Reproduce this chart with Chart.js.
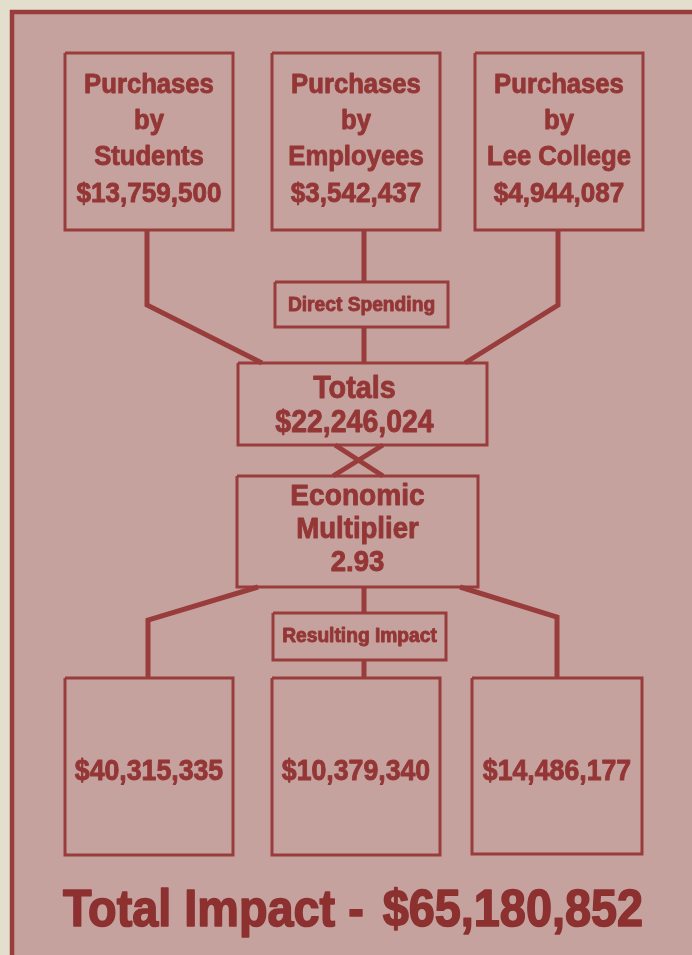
<!DOCTYPE html>
<html>
<head>
<meta charset="utf-8">
<title>Lee College economic impact</title>
<script src="https://cdn.jsdelivr.net/npm/chart.js@4.4.1/dist/chart.umd.min.js"></script>
<style>
  html, body { margin: 0; padding: 0; background: #e4dfcd; }
  #wrap { width: 692px; height: 955px; position: relative; }
</style>
</head>
<body>
<div id="wrap"><canvas id="chart"></canvas></div>
<script>
// values
const sourceLabels = [["Purchases", "by", "Students"], ["Purchases", "by", "Employees"], ["Purchases", "by", "Lee College"]];
const directSpending = [13759500, 3542437, 4944087];
const totalDirect = 22246024;
const multiplier = 2.93;
const resultingImpact = [40315335, 10379340, 14486177];
const totalImpact = 65180852;
const stageLabels = ["Direct Spending", "Totals", "Economic", "Multiplier", "Resulting Impact", "Total Impact"];

// layout, in page pixels (x right, y down)
const W = 692, H = 955;
const ink = "rgb(152, 60, 60)";
const textInk = "rgb(148, 54, 54)";
const topBoxes = [[65, 53, 233, 230], [272, 53, 440, 230], [475, 53, 643, 230]];
const bottomBoxes = [[65, 678, 233, 855], [272, 678, 440, 855], [472, 678, 642, 854]];
const directBox = [275, 282, 448, 327];
const totalsBox = [238, 363, 487, 445];
const multBox = [237, 476, 478, 587];
const resultBox = [273, 613, 446, 660];
const stemX = 364;

const money = (v) => "$" + v.toLocaleString("en-US");

const boxPath = (b) => [
  { x: b[0], y: b[1] }, { x: b[2], y: b[1] }, { x: b[2], y: b[3] }, { x: b[0], y: b[3] }, { x: b[0], y: b[1] }
];
const seg = (pts) => pts.map((p) => ({ x: p[0], y: p[1] }));

const boxes = [...topBoxes, ...bottomBoxes, directBox, totalsBox, multBox, resultBox];
const connectors = [
  seg([[147, topBoxes[0][3]], [147, 305], [262, totalsBox[1]]]),
  seg([[558, topBoxes[2][3]], [558, 305], [465, totalsBox[1]]]),
  seg([[stemX, topBoxes[1][3]], [stemX, directBox[1]]]),
  seg([[stemX, directBox[3]], [stemX, totalsBox[1]]]),
  seg([[335, totalsBox[3]], [383, multBox[1]]]),
  seg([[383, totalsBox[3]], [333, multBox[1]]]),
  seg([[stemX, multBox[3]], [stemX, resultBox[1]]]),
  seg([[stemX, resultBox[3]], [stemX, bottomBoxes[1][1]]]),
  seg([[258, multBox[3]], [148, 620], [148, bottomBoxes[0][1]]]),
  seg([[460, multBox[3]], [557, 617], [557, bottomBoxes[2][1]]])
];

const datasets = [
  ...connectors.map((d) => ({ data: d, borderWidth: 5 })),
  ...boxes.map((b) => ({ data: boxPath(b), borderWidth: 3 }))
].map((d) => ({
  ...d,
  showLine: true,
  borderColor: ink,
  pointRadius: 0,
  borderJoinStyle: "miter",
  borderCapStyle: "butt",
  tension: 0
}));

// text items: [text, x, y, font size, horizontal squeeze]
const cx = (b) => (b[0] + b[2]) / 2;
const texts = [];
topBoxes.forEach((b, i) => {
  sourceLabels[i].forEach((t, j) => texts.push([t, cx(b), 86 + j * 36, 27, 0.95]));
  texts.push([money(directSpending[i]), cx(b), 194, 28, 0.93]);
});
texts.push([stageLabels[0], cx(directBox), 305, 20, 0.96]);
texts.push([stageLabels[1], cx(totalsBox) - 8, 389, 32, 0.9]);
texts.push([money(totalDirect), cx(totalsBox) - 8, 423, 32, 0.89]);
texts.push([stageLabels[2], cx(multBox), 497, 29, 0.97]);
texts.push([stageLabels[3], cx(multBox), 530, 29, 0.95]);
texts.push([multiplier.toFixed(2), cx(multBox), 563, 29, 0.95]);
texts.push([stageLabels[4], cx(resultBox), 636, 20, 0.96]);
bottomBoxes.forEach((b, i) => texts.push([money(resultingImpact[i]), cx(b), 772, 29, 0.92]));

const diagram = {
  id: "diagram",
  beforeDraw(chart) {
    const ctx = chart.ctx;
    const xs = chart.scales.x, ys = chart.scales.y;
    ctx.save();
    ctx.fillStyle = "#e4dfcd";
    ctx.fillRect(0, 0, chart.width, chart.height);
    const fx = xs.getPixelForValue(12), fy = ys.getPixelForValue(12);
    ctx.fillStyle = "rgb(197, 162, 158)";
    ctx.fillRect(fx, fy, chart.width + 10, chart.height + 10);
    ctx.strokeStyle = ink;
    ctx.lineWidth = 4.5;
    ctx.strokeRect(fx, fy, chart.width + 10, chart.height + 10);
    ctx.restore();
  },
  afterDatasetsDraw(chart) {
    const ctx = chart.ctx;
    const xs = chart.scales.x, ys = chart.scales.y;
    const draw = (t, x, y, size, squeeze, align) => {
      ctx.save();
      ctx.font = "bold " + size + "px 'Liberation Sans', Arial, sans-serif";
      ctx.textAlign = align || "center";
      ctx.textBaseline = "middle";
      ctx.translate(xs.getPixelForValue(x), ys.getPixelForValue(y));
      ctx.scale(squeeze, 1);
      ctx.strokeStyle = ctx.fillStyle;
      ctx.lineWidth = size > 40 ? 1.6 : 0.9;
      ctx.lineJoin = "round";
      ctx.strokeText(t, 0, 0);
      ctx.fillText(t, 0, 0);
      ctx.restore();
    };
    ctx.fillStyle = textInk;
    texts.forEach((t) => draw(...t));

    // bottom line: words and amount squeezed differently
    ctx.fillStyle = "rgb(140, 48, 48)";
    const size = 52;
    ctx.font = "bold " + size + "px 'Liberation Sans', Arial, sans-serif";
    const left = stageLabels[5] + " - ";
    const wl = ctx.measureText(left).width * 0.9;
    draw(left, 63, 912, size, 0.9, "left");
    draw(money(totalImpact), 63 + wl + 6, 912, size, 0.9, "left");
  }
};

new Chart(document.getElementById("chart"), {
  type: "scatter",
  data: { datasets },
  options: {
    responsive: true,
    maintainAspectRatio: false,
    animation: false,
    events: [],
    layout: { padding: 0 },
    plugins: { legend: { display: false }, tooltip: { enabled: false } },
    scales: {
      x: { type: "linear", min: 0, max: W, display: false },
      y: { type: "linear", min: 0, max: H, reverse: true, display: false }
    }
  },
  plugins: [diagram]
});
</script>
</body>
</html>
